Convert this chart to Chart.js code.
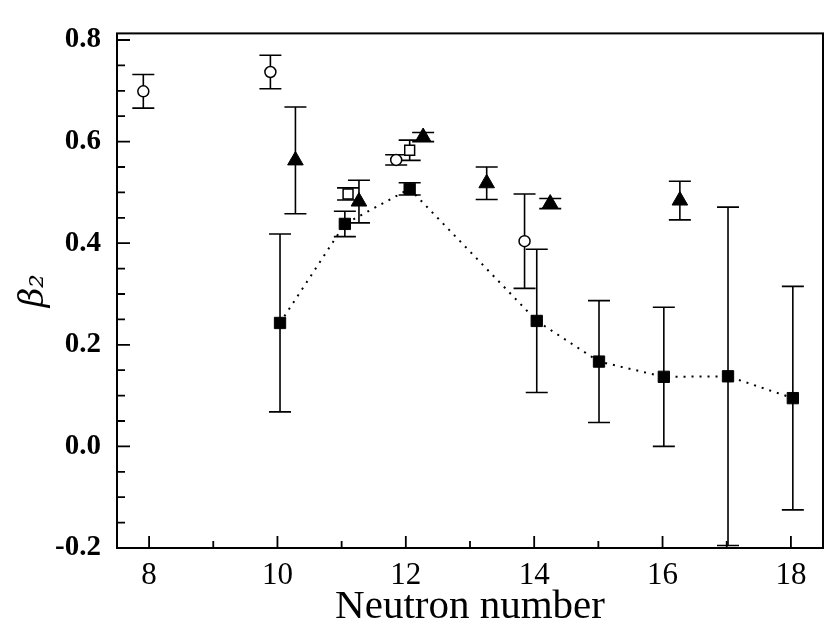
<!DOCTYPE html>
<html>
<head>
<meta charset="utf-8">
<script src="https://cdn.jsdelivr.net/npm/chart.js@4.4.0/dist/chart.umd.min.js"></script>
<style>
  html, body { margin: 0; padding: 0; background: #fff; }
  #wrap { width: 833px; height: 628px; }
</style>
</head>
<body>
<div id="wrap"><canvas id="betaChart"></canvas></div>
<script>
// filled squares (dotted line)
const fsN = [10.04, 11.05, 12.06, 14.04, 15.01, 16.02, 17.02, 18.03];
const fsBeta = [0.243, 0.438, 0.507, 0.247, 0.167, 0.137, 0.138, 0.095];
const fsErr = [0.175, 0.025, 0.012, 0.141, 0.12, 0.137, 0.333, 0.22];

// open circles
const ocN = [7.91, 9.89, 11.85, 13.85];
const ocBeta = [0.699, 0.737, 0.564, 0.404];
const ocErr = [0.033, 0.033, 0.01, 0.093];

// open squares
const osN = [11.1, 12.06];
const osBeta = [0.497, 0.583];
const osErr = [0.012, 0.02];

// filled triangles
const ftN = [10.28, 11.27, 12.27, 13.26, 14.25, 16.27];
const ftBeta = [0.563, 0.482, 0.609, 0.518, 0.478, 0.484];
const ftErr = [0.105, 0.042, 0.009, 0.032, 0.01, 0.038];

const xMinorTicks = [9, 11, 13, 15, 17];
const yMinorTicks = [-0.15, -0.1, -0.05, 0.05, 0.1, 0.15, 0.25, 0.3, 0.35, 0.45, 0.5, 0.55, 0.65, 0.7, 0.75];

function toPoints(xs, ys, errs) {
    return xs.map(function (x, i) {
        return { x: x, y: ys[i], err: errs[i] };
    });
}

const errorBarPlugin = {
    id: 'errorBars',
    beforeDatasetsDraw: function (chart) {
        const ctx = chart.ctx;
        const xs = chart.scales.x;
        const ys = chart.scales.y;
        ctx.save();
        ctx.strokeStyle = '#000';
        ctx.lineWidth = 1.6;
        chart.data.datasets.forEach(function (ds) {
            ds.data.forEach(function (p) {
                const px = xs.getPixelForValue(p.x);
                const top = ys.getPixelForValue(p.y + p.err);
                const bot = ys.getPixelForValue(p.y - p.err);
                ctx.beginPath();
                ctx.moveTo(px, top);
                ctx.lineTo(px, bot);
                ctx.moveTo(px - 11, top);
                ctx.lineTo(px + 11, top);
                ctx.moveTo(px - 11, bot);
                ctx.lineTo(px + 11, bot);
                ctx.stroke();
            });
        });
        ctx.restore();
    }
};

const framePlugin = {
    id: 'frameTicks',
    afterDraw: function (chart) {
        const ctx = chart.ctx;
        const area = chart.chartArea;
        const xs = chart.scales.x;
        const ys = chart.scales.y;
        ctx.save();
        ctx.strokeStyle = '#000';
        ctx.lineWidth = 2;
        ctx.strokeRect(area.left, area.top, area.right - area.left, area.bottom - area.top);

        ctx.lineWidth = 1.8;
        ctx.beginPath();
        ys.ticks.forEach(function (t) {
            const py = ys.getPixelForValue(t.value);
            ctx.moveTo(area.left, py);
            ctx.lineTo(area.left + 13, py);
        });
        yMinorTicks.forEach(function (v) {
            const py = ys.getPixelForValue(v);
            ctx.moveTo(area.left, py);
            ctx.lineTo(area.left + 8, py);
        });
        xs.ticks.forEach(function (t) {
            const px = xs.getPixelForValue(t.value);
            ctx.moveTo(px, area.bottom);
            ctx.lineTo(px, area.bottom - 12);
        });
        xMinorTicks.forEach(function (v) {
            const px = xs.getPixelForValue(v);
            ctx.moveTo(px, area.bottom);
            ctx.lineTo(px, area.bottom - 7);
        });
        ctx.stroke();
        ctx.restore();
    }
};

new Chart(document.getElementById('betaChart'), {
    type: 'scatter',
    data: {
        datasets: [
            {
                label: 'filled squares',
                data: toPoints(fsN, fsBeta, fsErr),
                showLine: true,
                borderColor: '#000',
                borderWidth: 2,
                borderDash: [2, 6],
                pointStyle: 'rect',
                pointRadius: 8,
                pointBackgroundColor: '#000',
                pointBorderColor: '#000',
                pointBorderWidth: 1
            },
            {
                label: 'open circles',
                data: toPoints(ocN, ocBeta, ocErr),
                pointStyle: 'circle',
                pointRadius: 5.5,
                pointBackgroundColor: '#fff',
                pointBorderColor: '#000',
                pointBorderWidth: 1.5
            },
            {
                label: 'open squares',
                data: toPoints(osN, osBeta, osErr),
                pointStyle: 'rect',
                pointRadius: 7,
                pointBackgroundColor: '#fff',
                pointBorderColor: '#000',
                pointBorderWidth: 1.5
            },
            {
                label: 'filled triangles',
                data: toPoints(ftN, ftBeta, ftErr),
                pointStyle: 'triangle',
                pointRadius: 9,
                pointBackgroundColor: '#000',
                pointBorderColor: '#000',
                pointBorderWidth: 1
            }
        ]
    },
    options: {
        responsive: true,
        maintainAspectRatio: false,
        animation: false,
        layout: {
            padding: { top: 14, right: 8, left: 0, bottom: 0 }
        },
        plugins: {
            legend: { display: false },
            tooltip: { enabled: false }
        },
        scales: {
            x: {
                type: 'linear',
                min: 7.5,
                max: 18.5,
                grid: { display: false, drawTicks: false },
                border: { display: false },
                ticks: {
                    stepSize: 2,
                    includeBounds: false,
                    padding: 9,
                    color: '#000',
                    font: { family: 'Liberation Serif', size: 31 }
                },
                title: {
                    display: true,
                    text: 'Neutron number',
                    color: '#000',
                    padding: 0,
                    font: { family: 'Liberation Serif', size: 41, lineHeight: 1.0 }
                },
                afterFit: function (scale) {
                    scale.height = 80;
                }
            },
            y: {
                min: -0.2,
                max: 0.813,
                grid: { display: false, drawTicks: false },
                border: { display: false },
                ticks: {
                    stepSize: 0.2,
                    includeBounds: false,
                    padding: 16,
                    color: '#000',
                    font: { family: 'Liberation Serif', size: 29, weight: 'bold' },
                    callback: function (value) {
                        return Number(value).toFixed(1);
                    }
                },
                title: {
                    display: true,
                    text: 'β₂',
                    color: '#000',
                    padding: { top: 14, bottom: 0 },
                    font: { family: 'DejaVu Serif', size: 34, style: 'italic' }
                },
                afterFit: function (scale) {
                    scale.width = 117;
                }
            }
        }
    },
    plugins: [errorBarPlugin, framePlugin]
});
</script>
</body>
</html>
